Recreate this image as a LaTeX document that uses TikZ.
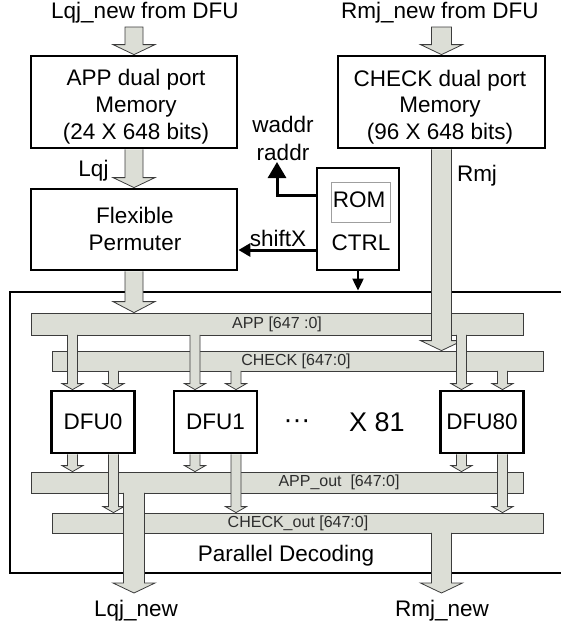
\documentclass[tikz,border=0pt]{standalone}
\usepackage{fontspec}
\setmainfont{Liberation Sans}
\usetikzlibrary{arrows.meta,calc,backgrounds}
\definecolor{busgray}{RGB}{220,222,214}
\definecolor{edgegray}{RGB}{60,60,60}
\definecolor{labelgray}{RGB}{45,45,45}
% open-top block arrow: [#1 top extension]{#2 from}{#3 tip}{#4 shaft half}{#5 head half}{#6 head length}
\newcommand{\blkarrow}[6][0pt]{%
  \filldraw[barrow] let \p1=(#2), \p2=(#3) in
    (\x2-#4,\y1+#1) -- (\x2-#4,\y2+#6) -- (\x2-#5,\y2+#6) -- (\x2,\y2)
    -- (\x2+#5,\y2+#6) -- (\x2+#4,\y2+#6) -- (\x2+#4,\y1+#1);}
% closed block arrow
\newcommand{\blkarrowc}[5]{%
  \filldraw[barrow] let \p1=(#1), \p2=(#2) in
    (\x2-#3,\y1) -- (\x2-#3,\y2+#5) -- (\x2-#4,\y2+#5) -- (\x2,\y2)
    -- (\x2+#4,\y2+#5) -- (\x2+#3,\y2+#5) -- (\x2+#3,\y1) -- cycle;}
\begin{document}
\begin{tikzpicture}[x=1pt,y=-1pt,
  txt/.style={font=\fontsize{22.5}{27}\selectfont, inner sep=0pt, anchor=base, text=black},
  bigtxt/.style={font=\fontsize{27}{30}\selectfont, inner sep=0pt, anchor=base, text=black},
  bustxt/.style={font=\fontsize{16}{19}\selectfont, inner sep=0pt, text=labelgray},
  thickbox/.style={draw=black, line width=2.8pt, fill=white, inner sep=0pt},
  dfubox/.style={thickbox, font=\fontsize{22.5}{27}\selectfont, minimum width=83pt, minimum height=62pt},
  bus/.style={draw=edgegray, line width=0.8pt, fill=busgray, inner sep=0pt},
  barrow/.style={draw=edgegray, line width=0.8pt, fill=busgray, line join=miter},
  sigarrow/.style={draw=black, line width=3pt},
]
\useasboundingbox (0,0) rectangle (561,627);

% ---- boxes (main layer)
\node[thickbox, minimum width=206pt, minimum height=92pt] (app) at (134,102) {};
\node[thickbox, minimum width=207pt, minimum height=92pt] (chk) at (441.5,102) {};
\node[thickbox, minimum width=206pt, minimum height=81pt] (flex) at (134,229.5) {};
\node[thickbox, minimum width=82pt, minimum height=102pt] (ctrl) at (358,219) {};
\node[draw=gray!75, line width=1pt, minimum width=59pt, minimum height=40pt, inner sep=0pt] (rom) at (360.5,202) {};
\node[dfubox] (dfu0) at (93,422) {DFU0};
\node[dfubox] (dfu1) at (215.5,422) {DFU1};
\node[dfubox] (dfu80) at (482,422) {DFU80};

\coordinate (i0a) at ([xshift=-20.5pt]dfu0.north);
\coordinate (i0c) at ([xshift=20.5pt]dfu0.north);
\coordinate (i1a) at ([xshift=-20.5pt]dfu1.north);
\coordinate (i1c) at ([xshift=20.5pt]dfu1.north);
\coordinate (i80a) at ([xshift=-20.5pt]dfu80.north);
\coordinate (i80c) at ([xshift=20.5pt]dfu80.north);
\coordinate (o0a) at ([xshift=-20.5pt]dfu0.south);
\coordinate (o0c) at ([xshift=20.5pt]dfu0.south);
\coordinate (o1a) at ([xshift=-20.5pt]dfu1.south);
\coordinate (o1c) at ([xshift=20.5pt]dfu1.south);
\coordinate (o80a) at ([xshift=-20.5pt]dfu80.south);
\coordinate (o80c) at ([xshift=20.5pt]dfu80.south);
\coordinate (s1) at (134,27);
\coordinate (s2) at (441.5,27);
\coordinate (lqjo) at (134,593);
\coordinate (rmjo) at (441.5,593);

% ---- background: frame, buses, block arrows
\begin{pgfonlayer}{background}
\fill[white] (0,0) rectangle (561,627);
\node[thickbox, minimum width=555pt, minimum height=281pt] (par) at (287.5,432.5) {};

\node[bus, minimum width=492pt, minimum height=22pt] (appbus) at (277,324) {};
\node[bus, minimum width=491pt, minimum height=20pt] (chkbus) at (297.5,361) {};
\node[bus, minimum width=492pt, minimum height=21pt] (appout) at (277,482.5) {};
\node[bus, minimum width=491pt, minimum height=20pt] (chkout) at (297.5,523) {};
\node[bustxt] (appbuslab) at (277,324) {APP [647 :0]};
\node[bustxt] (chkbuslab) at (296,361) {CHECK [647:0]};
\node[bustxt] (appoutlab) at (339,482.5) {APP\_out\ \ [647:0]};
\node[bustxt] (chkoutlab) at (298,523) {CHECK\_out [647:0]};

\blkarrowc{s1}{app.north}{9pt}{21pt}{10pt}
\blkarrowc{s2}{chk.north}{10pt}{21pt}{10pt}
\blkarrow{app.south}{flex.north}{9pt}{21pt}{10pt}
\blkarrow{flex.south}{flex.south |- appbus.north}{9pt}{21pt}{11pt}
\blkarrow{chk.south}{chk.south |- chkbus.north}{10pt}{21pt}{10pt}

\blkarrow[0.6pt]{i0a |- appbus.south}{i0a}{5pt}{10.5pt}{6pt}
\blkarrow[0.6pt]{i1a |- appbus.south}{i1a}{5pt}{10.5pt}{6pt}
\blkarrow[0.6pt]{i80a |- appbus.south}{i80a}{5pt}{10.5pt}{6pt}
\blkarrow[0.6pt]{i0c |- chkbus.south}{i0c}{5pt}{10.5pt}{6pt}
\blkarrow[0.6pt]{i1c |- chkbus.south}{i1c}{5pt}{10.5pt}{6pt}
\blkarrow[0.6pt]{i80c |- chkbus.south}{i80c}{5pt}{10.5pt}{6pt}

\blkarrow{o0a}{o0a |- appout.north}{5pt}{10.5pt}{6pt}
\blkarrow{o1a}{o1a |- appout.north}{5pt}{10.5pt}{6pt}
\blkarrow{o80a}{o80a |- appout.north}{5pt}{10.5pt}{6pt}
\blkarrow{o0c}{o0c |- chkout.north}{5pt}{10.5pt}{6pt}
\blkarrow{o1c}{o1c |- chkout.north}{5pt}{10.5pt}{6pt}
\blkarrow{o80c}{o80c |- chkout.north}{5pt}{10.5pt}{6pt}

\blkarrow[0.6pt]{lqjo |- appout.south}{lqjo}{10.5pt}{21pt}{10pt}
\blkarrow[0.6pt]{rmjo |- chkout.south}{rmjo}{10pt}{21pt}{10pt}
\end{pgfonlayer}

% ---- control signals
\coordinate (wtip) at (277,162);
\coordinate (wst) at ([yshift=24pt]ctrl.west);
\coordinate (sst) at ([yshift=-31pt]ctrl.west);
\draw[sigarrow, -{Triangle[width=18pt,length=16pt]}] (wst) -| (wtip);
\draw[sigarrow, -{Triangle[width=13pt,length=12pt]}] (sst) -- (sst -| flex.east);
\draw[line width=2pt, -{Triangle[width=11pt,length=12pt]}] (ctrl.south) -- (ctrl.south |- par.north);

% ---- texts
\node[txt] (lqjfrom) at (145,18) {Lqj\_new from DFU};
\node[txt] (rmjfrom) at (440,18) {Rmj\_new from DFU};
\node[txt] (app1) at (136,85) {APP dual port};
\node[txt] (app2) at (136,112) {Memory};
\node[txt] (app3) at (136,139) {(24 X 648 bits)};
\node[txt] (chk1) at (440,86) {CHECK dual port};
\node[txt] (chk2) at (440,112) {Memory};
\node[txt] (chk3) at (440,139) {(96 X 648 bits)};
\node[txt] (flex1) at (135,223) {Flexible};
\node[txt] (flex2) at (135,250) {Permuter};
\node[txt] (lqjlab) at (93.5,176) {Lqj};
\node[txt] (rmjlab) at (477,181) {Rmj};
\node[txt] (waddr) at (283,132) {waddr};
\node[txt] (raddr) at (283,160) {raddr};
\node[txt] (shiftx) at (278,246) {shiftX};
\node[txt] (romtxt) at (359,207) {ROM};
\node[txt] (ctrltxt) at (361,250) {CTRL};
\node[bigtxt] (dots) at (297,428) {···};
\node[bigtxt] (x81) at (377,431) {X 81};
\node[txt] (pdtxt) at (286,561) {Parallel Decoding};
\node[txt] (lqjnew) at (136,616) {Lqj\_new};
\node[txt] (rmjnew) at (442,616) {Rmj\_new};
\end{tikzpicture}
\end{document}
